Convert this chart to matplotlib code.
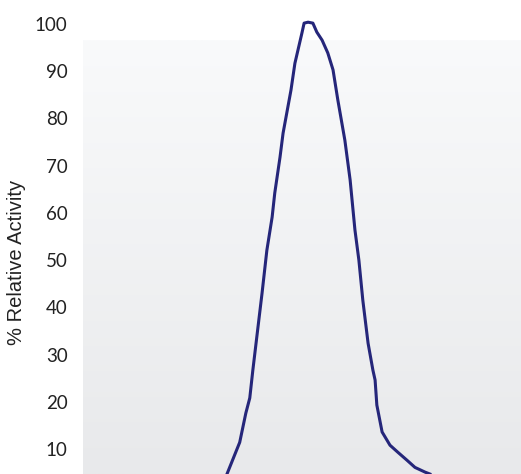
import numpy as np
import matplotlib.pyplot as plt

# curve (x in arbitrary units, y in % relative activity)
x_vals = [32.9, 35.8, 37.2, 38.1, 38.8, 39.7, 40.9, 42.0, 43.2, 43.8, 45.0, 45.7, 47.5, 48.4,
          49.1, 50.0, 50.5, 51.4, 52.5, 53.4, 54.6, 55.9, 57.1, 58.2, 59.8, 61.0, 62.1, 63.0,
          63.9, 65.1, 66.2, 66.7, 67.1, 68.3, 70.1, 71.9, 74.0, 75.8, 78.1, 79.2]
y_vals = [4.7, 11.4, 17.6, 20.8, 26.7, 33.7, 43.0, 52.1, 59.1, 64.2, 71.8, 76.9, 86.0, 91.7,
          94.5, 98.1, 100.2, 100.4, 100.2, 98.3, 96.6, 93.9, 90.3, 83.9, 75.4, 67.0, 56.4, 50.0,
          41.5, 32.4, 26.7, 24.6, 19.3, 13.6, 10.8, 9.3, 7.6, 6.1, 5.1, 4.7]
yticks = [10, 20, 30, 40, 50, 60, 70, 80, 90, 100]

fig = plt.figure(figsize=(5.21, 4.74), dpi=100)
ax = fig.add_axes([0.159, 0.0, 0.841, 1.0])
ax.set_xlim(0, 100)
ax.set_ylim(4.7, 105.1)

# soft vertical gradient behind the plot
grad = np.linspace(0, 1, 256).reshape(-1, 1)
top = np.array([249, 250, 251]) / 255
bot = np.array([232, 233, 235]) / 255
img = top + (bot - top) * grad[:, :, None]
ax.imshow(img, extent=[0, 100, 4.7, 96.6], aspect='auto', zorder=0)

ax.plot(x_vals, y_vals, color='#25267a', lw=2.2, zorder=2, clip_on=False)

for s in ax.spines.values():
    s.set_visible(False)
ax.set_xticks([])
ax.set_yticks(yticks)
ax.set_yticklabels([str(t) for t in yticks], fontfamily='Lato', fontsize=13.5, color='#222222')
ax.tick_params(axis='y', length=0, pad=11)
ax.set_ylabel('% Relative Activity', fontfamily='Liberation Sans', fontsize=14.5, color='#222222')
ax.yaxis.set_label_coords(-0.129, 0.447)

fig.savefig('out.png', dpi=100)
